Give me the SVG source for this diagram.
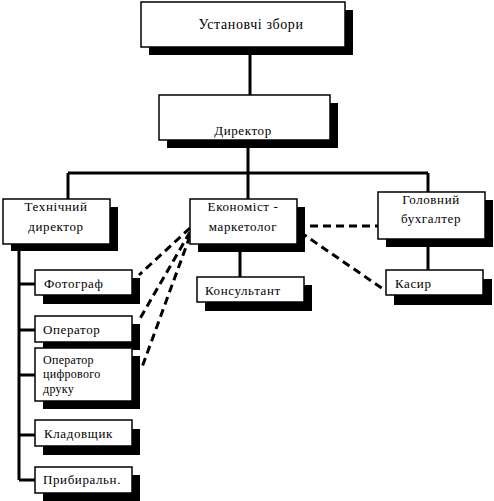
<svg xmlns="http://www.w3.org/2000/svg" width="494" height="501" viewBox="0 0 494 501">
<style>
.box{fill:#fff;stroke:#000;stroke-width:1.5}
.sh{fill:#000}
.t{font-family:"Liberation Serif","Times New Roman",serif;font-size:13px;fill:#000;letter-spacing:0.6px}
.c{text-anchor:middle}
.ln{stroke:#000;stroke-width:3;fill:none}
.dl{stroke:#000;stroke-width:3;fill:none;stroke-dasharray:8 5}
</style>
<rect width="494" height="501" fill="#fff"/>
<g id="connectors">
<path class="ln" d="M250 55V95"/>
<path class="ln" d="M248 147V173M68 173H428M68 173V199M248 173V199M428 173V192"/>
<path class="ln" d="M19 245V480M19 284H35M19 330H35M19 375H35M19 435H35M19 480H35"/>
<path class="ln" d="M240 245V277"/>
<path class="ln" d="M428 239V270"/>
<path class="dl" d="M190 228L139 275"/>
<path class="dl" d="M190 232L138 322"/>
<path class="dl" d="M190 236L141 370"/>
<path class="dl" d="M297 226H378"/>
<path class="dl" d="M300 232L386 291"/>
</g>
<g id="n-zbory">
<rect class="sh" x="149" y="10" width="204" height="45"/>
<rect class="box" x="141" y="2" width="204" height="45"/>
<text class="t c" x="251" y="29" style="font-size:14px">Установчі збори</text>
</g>
<g id="n-dyrektor">
<rect class="sh" x="167" y="103" width="171" height="45"/>
<rect class="box" x="159" y="95" width="171" height="45"/>
<text class="t c" x="243" y="135">Директор</text>
</g>
<g id="n-tekh">
<rect class="sh" x="11" y="207" width="107" height="44"/>
<rect class="box" x="3" y="199" width="107" height="45"/>
<text class="t c" x="56" y="211">Технічний</text>
<text class="t c" x="56" y="231">директор</text>
</g>
<g id="n-ekon">
<rect class="sh" x="198" y="207" width="107" height="45"/>
<rect class="box" x="190" y="199" width="107" height="45"/>
<text class="t c" x="243" y="211">Економіст -</text>
<text class="t c" x="243" y="231">маркетолог</text>
</g>
<g id="n-buh">
<rect class="sh" x="386" y="200" width="107" height="47"/>
<rect class="box" x="378" y="192" width="107" height="47"/>
<text class="t c" x="431" y="204">Головний</text>
<text class="t c" x="431" y="223">бухгалтер</text>
</g>
<g id="n-konsult">
<rect class="sh" x="205" y="285" width="107" height="26"/>
<rect class="box" x="197" y="277" width="107" height="25"/>
<text class="t" x="205" y="295">Консультант</text>
</g>
<g id="n-kasyr">
<rect class="sh" x="394" y="279" width="98" height="26"/>
<rect class="box" x="386" y="270" width="97" height="25"/>
<text class="t" x="395" y="288">Касир</text>
</g>
<g id="n-foto">
<rect class="sh" x="43" y="278" width="97" height="26"/>
<rect class="box" x="35" y="270" width="97" height="25"/>
<text class="t" x="44" y="288">Фотограф</text>
</g>
<g id="n-oper">
<rect class="sh" x="43" y="324" width="97" height="26"/>
<rect class="box" x="35" y="316" width="97" height="26"/>
<text class="t" x="43" y="334">Оператор</text>
</g>
<g id="n-oper-dr">
<rect class="sh" x="43" y="356" width="97" height="53"/>
<rect class="box" x="35" y="348" width="97" height="53"/>
<text class="t" x="43" y="364" style="font-size:12px;letter-spacing:0.3px">Оператор</text>
<text class="t" x="43" y="378" style="font-size:12px;letter-spacing:0.3px">цифрового</text>
<text class="t" x="43" y="393" style="font-size:12px;letter-spacing:0.3px">друку</text>
</g>
<g id="n-klad">
<rect class="sh" x="43" y="429" width="97" height="26"/>
<rect class="box" x="35" y="420" width="97" height="26"/>
<text class="t" x="44" y="438">Кладовщик</text>
</g>
<g id="n-prybyr">
<rect class="sh" x="43" y="475" width="97" height="26"/>
<rect class="box" x="35" y="467" width="97" height="26"/>
<text class="t" x="43" y="484">Прибиральн.</text>
</g>
</svg>
